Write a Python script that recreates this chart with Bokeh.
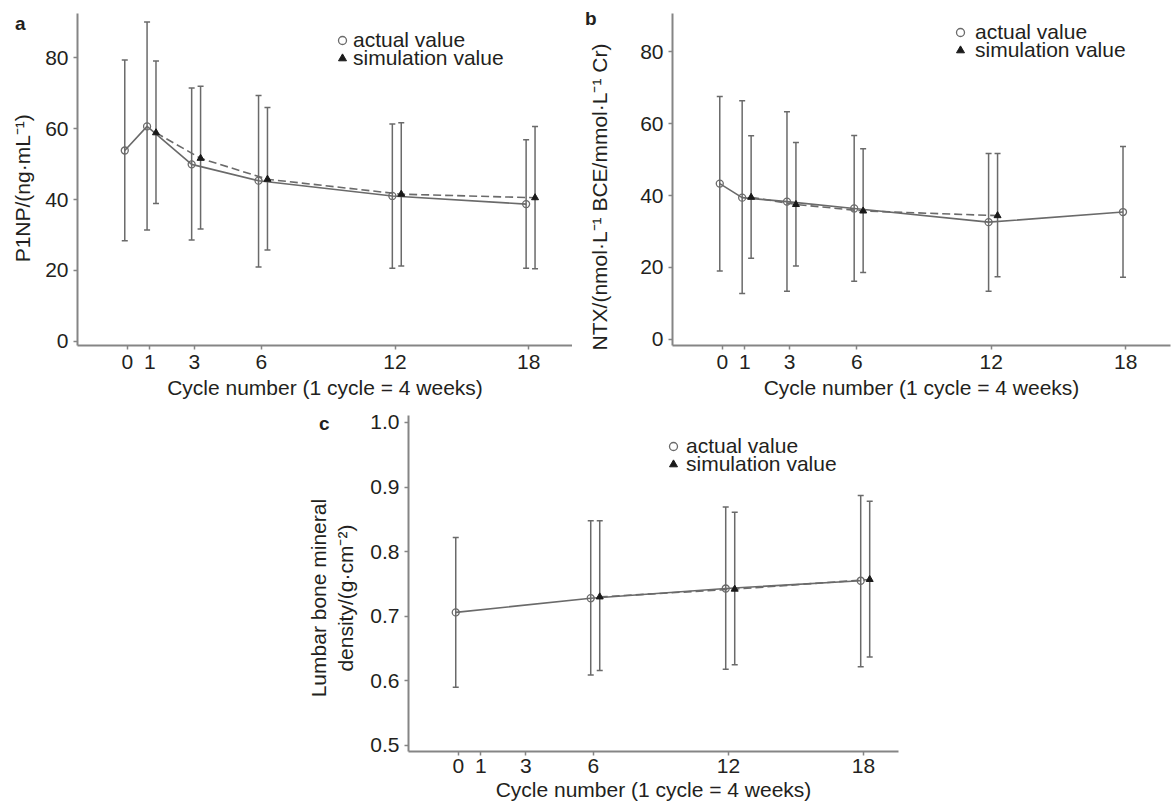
from bokeh.plotting import figure
from bokeh.models import (ColumnDataSource, Whisker, TeeHead, FixedTicker, NumeralTickFormatter,
                          Legend, LegendItem, LinearAxis, Range1d, Spacer)
from bokeh.layouts import row, column
from bokeh.embed import file_html
from bokeh.resources import INLINE

# ---------------- data ----------------
cycle_ticks = [0, 1, 3, 6, 12, 18]

# panel a : P1NP
a_act_cycle = [0, 1, 3, 6, 12, 18]
a_act_mean = [53.8, 60.6, 49.9, 45.3, 41.0, 38.7]
a_act_upper = [79.3, 90.0, 71.4, 69.3, 61.3, 56.8]
a_act_lower = [28.4, 31.4, 28.6, 21.0, 20.6, 20.6]
a_sim_cycle = [1, 3, 6, 12, 18]
a_sim_mean = [58.8, 51.6, 45.7, 41.5, 40.5]
a_sim_upper = [79.0, 71.9, 65.9, 61.6, 60.6]
a_sim_lower = [38.9, 31.7, 25.8, 21.3, 20.5]

# panel b : NTX
b_act_cycle = [0, 1, 3, 6, 12, 18]
b_act_mean = [43.3, 39.4, 38.3, 36.4, 32.6, 35.4]
b_act_upper = [67.5, 66.3, 63.3, 56.7, 51.7, 53.6]
b_act_lower = [19.0, 12.8, 13.4, 16.2, 13.4, 17.3]
b_sim_cycle = [1, 3, 6, 12]
b_sim_mean = [39.5, 37.5, 35.7, 34.4]
b_sim_upper = [56.6, 54.7, 53.0, 51.7]
b_sim_lower = [22.6, 20.4, 18.6, 17.4]

# panel c : lumbar BMD
c_act_cycle = [0, 6, 12, 18]
c_act_mean = [0.706, 0.728, 0.743, 0.755]
c_act_upper = [0.822, 0.848, 0.869, 0.887]
c_act_lower = [0.590, 0.609, 0.618, 0.622]
c_sim_cycle = [6, 12, 18]
c_sim_mean = [0.730, 0.742, 0.757]
c_sim_upper = [0.848, 0.861, 0.878]
c_sim_lower = [0.616, 0.625, 0.637]

x_label = "Cycle number (1 cycle = 4 weeks)"
a_y_label = "P1NP/(ng·mL⁻¹)"
b_y_label = "NTX/(nmol·L⁻¹ BCE/mmol·L⁻¹ Cr)"
c_y_label = ["Lumbar bone mineral", "density/(g·cm⁻²)"]
legend_labels = ["actual value", "simulation value"]
panel_tags = ["a", "b", "c"]

# ---------------- style ----------------
FONT = "Liberation Sans"
AXIS_GREY = "#858585"
LINE_GREY = "#6a6a6a"
TEXT = "#231f20"
ACT_SHIFT = -0.12
SIM_SHIFT = 0.28
NB = "\u00a0"   # trailing non-breaking spaces nudge the centred y titles downwards


def make_fig(width, height, xr, yr, bl, br, bt, bb, yticks, ylabel, ylabel_standoff,
             x_tick_standoff=5, x_label_standoff=4):
    p = figure(width=width, height=height, x_range=Range1d(*xr), y_range=Range1d(*yr),
               output_backend="svg", toolbar_location=None,
               min_border_left=bl, min_border_right=br, min_border_top=bt, min_border_bottom=bb)
    p.outline_line_color = None
    p.grid.visible = False
    p.background_fill_color = "white"
    p.border_fill_color = "white"
    p.xaxis.ticker = FixedTicker(ticks=cycle_ticks)
    p.yaxis.ticker = FixedTicker(ticks=yticks)
    for ax in p.axis:
        ax.axis_line_color = AXIS_GREY
        ax.axis_line_width = 2
        ax.major_tick_line_color = AXIS_GREY
        ax.major_tick_line_width = 1.5
        ax.major_tick_out = 4
        ax.major_tick_in = 0
        ax.minor_tick_line_color = None
        ax.major_label_text_font = FONT
        ax.major_label_text_font_size = "21px"
        ax.major_label_text_color = TEXT
        ax.axis_label_text_font = FONT
        ax.axis_label_text_font_size = "21px"
        ax.axis_label_text_font_style = "normal"
        ax.axis_label_text_color = TEXT
    p.xaxis.major_label_standoff = x_tick_standoff
    p.xaxis.axis_label = x_label
    p.xaxis.axis_label_standoff = x_label_standoff
    p.yaxis.major_label_standoff = 5
    p.yaxis.axis_label = ylabel
    p.yaxis.axis_label_standoff = ylabel_standoff
    return p


def add_series(p, cycles, mean, upper, lower, shift, kind):
    src = ColumnDataSource(dict(x=[c + shift for c in cycles], y=mean, hi=upper, lo=lower))
    p.add_layout(Whisker(source=src, base="x", upper="hi", lower="lo", dimension="height",
                         line_color=LINE_GREY, line_width=1.5,
                         upper_head=TeeHead(size=6, line_color=LINE_GREY, line_width=1.5),
                         lower_head=TeeHead(size=6, line_color=LINE_GREY, line_width=1.5)))
    if kind == "act":
        p.line("x", "y", source=src, line_color=LINE_GREY, line_width=1.6)
        r = p.scatter("x", "y", source=src, marker="circle", size=7, line_color=LINE_GREY,
                      line_width=1.3, fill_color="white", fill_alpha=0.0)
    else:
        p.line("x", "y", source=src, line_color=LINE_GREY, line_width=1.6, line_dash="8 4")
        r = p.scatter("x", "y", source=src, marker="triangle", size=7, line_color="#1a1a1a",
                      fill_color="#1a1a1a")
    return r


def add_legend(p, r, label, x, y, standoff):
    lg = Legend(items=[LegendItem(label=label, renderers=[r])], location=(x, y),
                padding=0, margin=0, spacing=0, glyph_width=20, glyph_height=20,
                label_standoff=standoff, border_line_color=None, background_fill_alpha=0,
                label_text_font=FONT, label_text_font_size="21px", label_text_color=TEXT)
    p.add_layout(lg)


def add_tag(p, text, frac, standoff):
    # panel letter drawn as the only tick label of an extra, line-less left axis
    y0, y1 = p.y_range.start, p.y_range.end
    ypos = round(y0 + frac * (y1 - y0), 4)
    ax = LinearAxis(ticker=FixedTicker(ticks=[ypos]), major_label_overrides={ypos: text})
    ax.axis_line_color = None
    ax.major_tick_line_color = None
    ax.minor_tick_line_color = None
    ax.major_tick_out = 0
    ax.major_tick_in = 0
    ax.major_label_standoff = standoff
    ax.major_label_text_font = FONT
    ax.major_label_text_font_size = "19px"
    ax.major_label_text_font_style = "bold"
    ax.major_label_text_color = TEXT
    p.add_layout(ax, "left")


# ---------------- panel a ----------------
pa = make_fig(572, 403, (-2.24, 19.96), (-1.13, 92.4), 77, 0, 13, 58,
              [0, 20, 40, 60, 80], a_y_label + NB * 3, 8)
ra = add_series(pa, a_act_cycle, a_act_mean, a_act_upper, a_act_lower, ACT_SHIFT, "act")
rs = add_series(pa, a_sim_cycle, a_sim_mean, a_sim_upper, a_sim_lower, SIM_SHIFT, "sim")
add_legend(pa, ra, legend_labels[0], 255, 293, 1)
add_legend(pa, rs, legend_labels[1], 255, 275, 1)
add_tag(pa, panel_tags[0], 0.97, -17)

# ---------------- panel b ----------------
pb = make_fig(601, 403, (-2.23, 20.0), (-1.67, 90.56), 100, 3, 13, 58,
              [0, 20, 40, 60, 80], b_y_label + NB * 6, 26)
ra = add_series(pb, b_act_cycle, b_act_mean, b_act_upper, b_act_lower, ACT_SHIFT, "act")
rs = add_series(pb, b_sim_cycle, b_sim_mean, b_sim_upper, b_sim_lower, SIM_SHIFT, "sim")
add_legend(pb, ra, legend_labels[0], 278, 301, 5)
add_legend(pb, rs, legend_labels[1], 278, 283, 5)
add_tag(pb, panel_tags[1], 0.985, -11)

# ---------------- panel c ----------------
pc = make_fig(652, 402, (-2.22, 19.56), (0.4907, 1.0108), 150, 12, 12, 54,
              [0.5, 0.6, 0.7, 0.8, 0.9, 1.0], "\n".join(s + NB * 5 for s in c_y_label), 10,
              x_tick_standoff=3, x_label_standoff=2)
pc.yaxis.formatter = NumeralTickFormatter(format="0.0")
ra = add_series(pc, c_act_cycle, c_act_mean, c_act_upper, c_act_lower, ACT_SHIFT, "act")
rs = add_series(pc, c_sim_cycle, c_sim_mean, c_sim_upper, c_sim_lower, SIM_SHIFT, "sim")
add_legend(pc, ra, legend_labels[0], 255, 293, 3)
add_legend(pc, rs, legend_labels[1], 255, 275, 3)
add_tag(pc, panel_tags[2], 0.976, -26)

layout = column(row(pa, pb), row(Spacer(width=258, height=402), pc))

open("out.html", "w").write(file_html(layout, INLINE))
